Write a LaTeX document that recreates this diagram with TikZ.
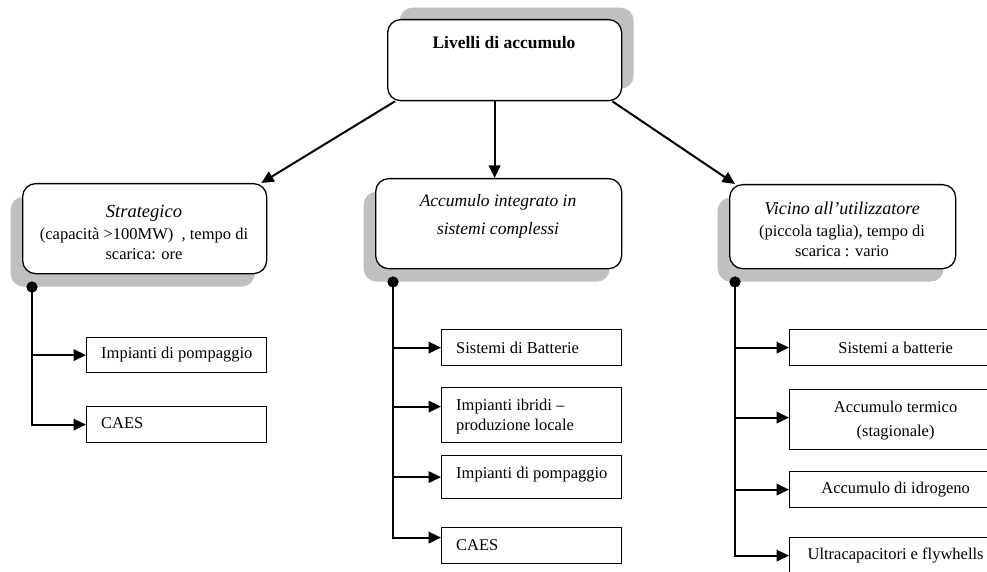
\documentclass[tikz,border=0pt]{standalone}
\usepackage{fontspec}
\setmainfont{Liberation Serif}
\usetikzlibrary{arrows.meta,shadows,calc}
\definecolor{shadowgray}{RGB}{192,192,192}
\begin{document}
\begin{tikzpicture}[x=1pt,y=-1pt,
 rbox/.style={draw, line width=1.3pt, rounded corners=13pt, fill=white, anchor=north west, inner sep=0pt},
 shadowUR/.style={general shadow={fill=shadowgray, shadow xshift=12pt, shadow yshift=12pt}},
 shadowDL/.style={general shadow={fill=shadowgray, shadow xshift=-12pt, shadow yshift=-13pt}},
 leaf/.style={draw, line width=1.2pt, fill=white, anchor=north west, inner sep=0pt},
 conn/.style={line width=2pt, -{Triangle[length=12.5pt,width=11.5pt]}},
 dotn/.style={circle, fill=black, minimum size=11pt, inner sep=0pt},
 txt/.style={font=\fontsize{16.5}{20}\selectfont, inner sep=0pt},
]
\clip (0,0) rectangle (987,572);
\fill[white] (0,0) rectangle (987,572);

% main boxes
\node[rbox, shadowUR, minimum width=234pt, minimum height=81pt] (root) at (387,19) {};
\node[rbox, shadowDL, minimum width=244pt, minimum height=90pt] (S) at (22,183) {};
\node[rbox, shadowDL, minimum width=246pt, minimum height=90pt] (M) at (375,178) {};
\node[rbox, shadowDL, minimum width=226pt, minimum height=84pt] (R) at (729,184) {};

\node[font=\fontsize{17.5}{20}\selectfont\bfseries, inner sep=0pt] (roott) at (504,43) {Livelli di accumulo};
\node[txt, align=center] (St) at (144,232) {{\fontsize{18.5}{22}\selectfont\itshape Strategico}\\[2pt](capacità >100MW)\ \ , tempo di\\scarica: ore};
\node[align=center, font=\fontsize{17.5}{28}\selectfont\itshape, inner sep=0pt] (Mt) at (498,216) {Accumulo integrato in\\sistemi complessi};
\node[txt, align=center] (Rt) at (842,229) {{\fontsize{18}{22}\selectfont\itshape Vicino all’utilizzatore}\\[2pt](piccola taglia), tempo di\\scarica : vario};

% leaf boxes
\node[leaf, minimum width=180pt, minimum height=35pt] (L1) at (86,337) {};
\node[leaf, minimum width=180pt, minimum height=36pt] (L2) at (86,406) {};
\node[leaf, minimum width=180pt, minimum height=36pt] (M1) at (441,329) {};
\node[leaf, minimum width=180pt, minimum height=55pt] (M2) at (441,387) {};
\node[leaf, minimum width=180pt, minimum height=43pt] (M3) at (441,455) {};
\node[leaf, minimum width=180pt, minimum height=36pt] (M4) at (441,527) {};
\node[leaf, minimum width=212pt, minimum height=36pt] (R1) at (789,329) {};
\node[leaf, minimum width=212pt, minimum height=60pt] (R2) at (789,389) {};
\node[leaf, minimum width=212pt, minimum height=36pt] (R3) at (789,471) {};
\node[leaf, minimum width=212pt, minimum height=40pt] (R4) at (789,537) {};

\node[txt, anchor=west] (L1t) at ([xshift=15pt,yshift=1pt]L1.west) {Impianti di pompaggio};
\node[txt, anchor=west] (L2t) at ([xshift=15pt,yshift=1pt]L2.west) {CAES};
\node[txt, anchor=west] (M1t) at ([xshift=15pt]M1.west) {Sistemi di Batterie};
\node[txt, anchor=west, align=left] (M2t) at ([xshift=15pt,yshift=-1pt]M2.west) {Impianti ibridi --\\produzione locale};
\node[txt, anchor=west] (M3t) at ([xshift=15pt,yshift=3pt]M3.west) {Impianti di pompaggio};
\node[txt, anchor=west] (M4t) at ([xshift=15pt]M4.west) {CAES};
\node[txt] (R1t) at (R1.center) {Sistemi a batterie};
\node[txt, align=center] (R2t) at ([yshift=-1pt]R2.center) {Accumulo termico\\[4pt](stagionale)};
\node[txt] (R3t) at (R3.center) {Accumulo di idrogeno};
\node[txt] (R4t) at ([yshift=2pt]R4.center) {Ultracapacitori e flywhells};

% dots
\node[dotn] (dL) at (32,287) {};
\node[dotn] (dM) at (393,282) {};
\node[dotn] (dR) at (735,282) {};

% top connectors
\draw[conn] ([xshift=8pt]root.south west) -- ([xshift=-6pt]S.north east);
\draw[conn] ([xshift=-10pt]root.south) -- ([xshift=-10pt]root.south |- M.north);
\draw[conn] ([xshift=-10pt]root.south east) -- ([xshift=6pt]R.north west);

% left tree
\draw[conn] (dL.center) |- (L2.west);
\draw[conn] (dL |- L1.west) -- (L1.west);

% middle tree
\coordinate (aM2) at ($(M2.west)+(0,-8.5)$);
\coordinate (aM4) at ($(M4.west)+(0,-8)$);
\draw[conn] (dM.center) |- (aM4);
\draw[conn] (dM |- M1.west) -- (M1.west);
\draw[conn] (dM |- aM2) -- (aM2);
\draw[conn] (dM |- M3.west) -- (M3.west);

% right tree
\coordinate (aR2) at ($(R2.west)+(0,-2)$);
\coordinate (aR4) at ($(R4.west)+(0,-2)$);
\draw[conn] (dR.center) |- (aR4);
\draw[conn] (dR |- R1.west) -- (R1.west);
\draw[conn] (dR |- aR2) -- (aR2);
\draw[conn] (dR |- R3.west) -- (R3.west);

\node[dotn] at (dL) {};
\node[dotn] at (dM) {};
\node[dotn] at (dR) {};
\end{tikzpicture}
\end{document}
